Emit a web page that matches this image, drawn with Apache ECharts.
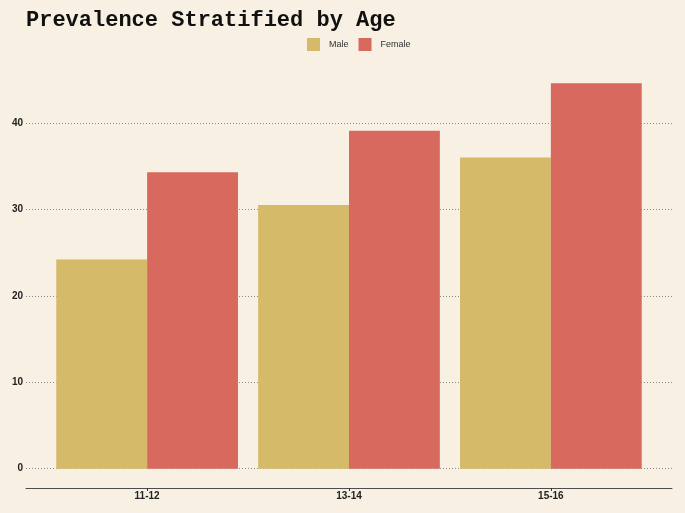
<!DOCTYPE html>
<html>
<head>
<meta charset="utf-8">
<script src="https://cdn.jsdelivr.net/npm/echarts@6/dist/echarts.min.js"></script>
<style>
html,body{margin:0;padding:0;background:#F7F0E3;}
#chart{width:685px;height:513px;}
</style>
</head>
<body>
<div id="chart"></div>
<script>
const categories = ['11-12', '13-14', '15-16'];
const maleValues = [24.2, 30.5, 36.0];
const femaleValues = [34.3, 39.1, 44.6];
const seriesNames = ['Male', 'Female'];
const yTicks = [0, 10, 20, 30, 40];

const positions = categories.map((c, i) => i + 1);
const yMax = Math.max(...maleValues, ...femaleValues) * 1.05;

const chart = echarts.init(document.getElementById('chart'), null, {renderer: 'canvas'});
chart.setOption({
  backgroundColor: '#F7F0E3',
  animation: false,
  title: {
    text: 'Prevalence Stratified by Age',
    left: 26,
    top: 9,
    padding: 0,
    textStyle: {fontFamily: 'Liberation Mono', fontWeight: 'bold', fontSize: 22, color: '#111'}
  },
  legend: {
    data: seriesNames,
    left: 307,
    top: 38,
    padding: 0,
    icon: 'rect',
    itemWidth: 13,
    itemHeight: 13,
    itemGap: 10,
    textStyle: {fontFamily: 'Liberation Sans', fontSize: 9, color: '#333', padding: [0, 0, 0, 4]}
  },
  grid: {left: 26, right: 13, top: 64, bottom: 44.3, containLabel: false},
  xAxis: {
    type: 'value',
    min: 0.4,
    max: 3.6,
    offset: 19.3,
    splitLine: {show: false},
    axisLine: {show: true, onZero: false, lineStyle: {color: '#4d4d4d', width: 1}},
    axisTick: {show: true, length: 3, customValues: positions, lineStyle: {color: '#333'}},
    axisLabel: {
      customValues: positions,
      formatter: v => categories[Math.round(v) - 1] || '',
      margin: 3,
      fontFamily: 'Liberation Sans', fontWeight: 'bold', fontSize: 10, color: '#222'
    }
  },
  yAxis: {
    type: 'value',
    min: 0,
    max: yMax,
    interval: 10,
    axisLine: {show: false},
    axisTick: {show: false},
    axisLabel: {
      showMaxLabel: false,
      formatter: v => (yTicks.includes(v) ? String(v) : ''),
      margin: 3,
      fontFamily: 'Liberation Sans', fontWeight: 'bold', fontSize: 10, color: '#222'
    },
    splitLine: {show: true, showMaxLine: false, lineStyle: {color: '#8a8a8a', type: [1, 2], width: 1}}
  },
  series: [
    {
      name: seriesNames[0], type: 'bar',
      data: positions.map((p, i) => [p, maleValues[i]]),
      itemStyle: {color: '#D4BA69'},
      barGap: '0%', barCategoryGap: '10%'
    },
    {
      name: seriesNames[1], type: 'bar',
      data: positions.map((p, i) => [p, femaleValues[i]]),
      itemStyle: {color: '#D7695E'},
      barGap: '0%', barCategoryGap: '10%'
    }
  ]
});
</script>
</body>
</html>
